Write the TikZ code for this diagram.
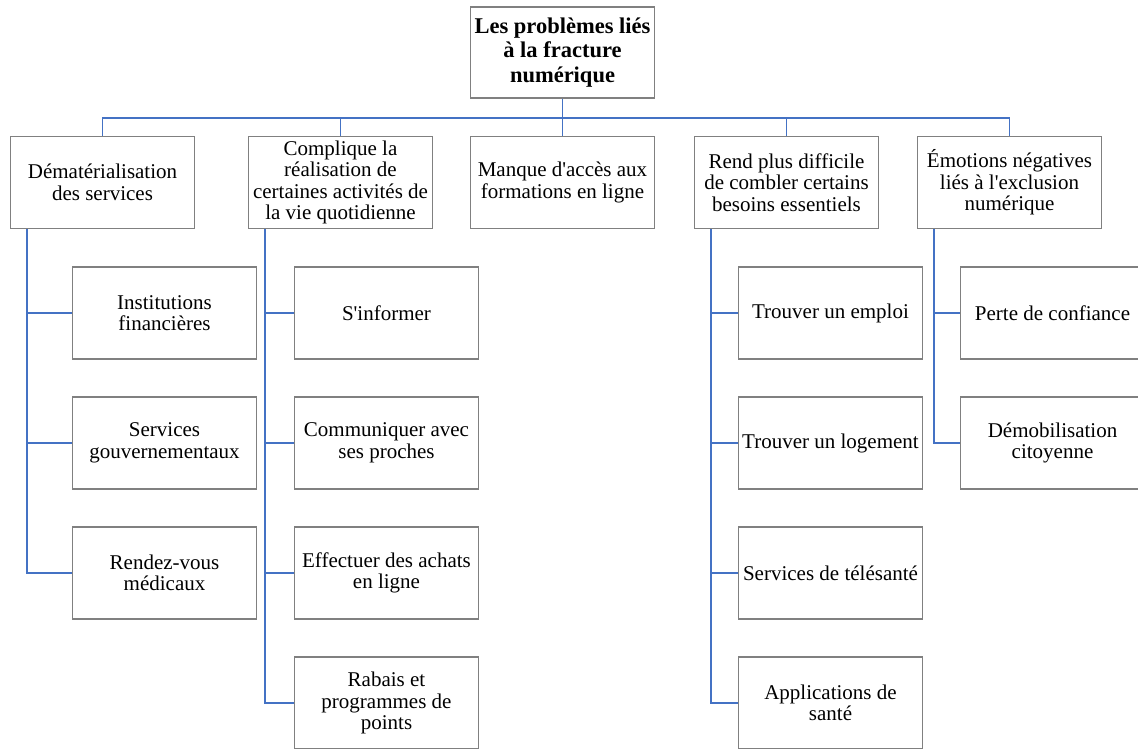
\documentclass[tikz,border=0pt]{standalone}
\usepackage{fontspec}
\setmainfont{Liberation Serif}

\definecolor{linkblue}{RGB}{68,114,196}
\definecolor{boxgray}{RGB}{128,128,128}

\begin{document}
\begin{tikzpicture}[x=1pt, y=-1pt,
    box/.style={draw=boxgray, line width=1.1pt, fill=white, minimum width=184pt, minimum height=92pt, inner sep=1pt, align=center, font=\fontsize{21}{21.5}\selectfont},
    rootbox/.style={box, minimum height=91pt, font=\fontsize{22.5}{24.5}\selectfont\bfseries},
    link/.style={draw=linkblue, line width=1.9pt}]
%% page size, the lowest row runs off the bottom and the right column off the right side
    \useasboundingbox (0,0) rectangle (1138,748);
%% the head of the chart
    \node[rootbox] (root) at (562.5,52.5) {Les problèmes liés\\à la fracture\\numérique};
%% first level
    \node[box] (dem) at (102.5,182.5) {Dématérialisation\\des services};
    \node[box] (comp) at (340.5,182.5) {Complique la\\réalisation de\\certaines activités de\\la vie quotidienne};
    \node[box] (manque) at (562.5,182.5) {Manque d{\textquotesingle}accès aux\\formations en ligne};
    \node[box] (rend) at (786.5,182.5) {Rend plus difficile\\de combler certains\\besoins essentiels};
    \node[box] (emo) at (1009.5,182.5) {Émotions négatives\\liés à l{\textquotesingle}exclusion\\numérique};
%% second level, one column under each box
    \node[box] (inst) at (164.5,313) {Institutions\\financières};
    \node[box] (gouv) at (164.5,443) {Services\\gouvernementaux};
    \node[box] (rdv) at (164.5,573) {Rendez-vous\\médicaux};
    \node[box] (info) at (386.5,313) {S{\textquotesingle}informer};
    \node[box] (comm) at (386.5,443) {Communiquer avec\\ses proches};
    \node[box] (achat) at (386.5,573) {Effectuer des achats\\en ligne};
    \node[box] (rabais) at (386.5,703) {Rabais et\\programmes de\\points};
    \node[box] (emploi) at (830.5,313) {Trouver un emploi};
    \node[box] (logement) at (830.5,443) {Trouver un logement};
    \node[box] (tele) at (830.5,573) {Services de télésanté};
    \node[box] (appli) at (830.5,703) {Applications de\\santé};
    \node[box] (perte) at (1052.5,313) {Perte de confiance};
    \node[box] (demob) at (1052.5,443) {Démobilisation\\citoyenne};
%% the bar under the head
    \coordinate (bar) at (0,118);
    \draw[link] (root.south) -- (root.south |- bar);
    \draw[link] (dem.north) -- (dem.north |- bar) -- (emo.north |- bar) -- (emo.north);
    \draw[link] (comp.north) -- (comp.north |- bar);
    \draw[link] (manque.north) -- (manque.north |- bar);
    \draw[link] (rend.north) -- (rend.north |- bar);
%% the side lines, they start a bit right of the left edge of the parent box
    \coordinate (demx) at ([xshift=17pt]dem.south west);
    \coordinate (compx) at ([xshift=17pt]comp.south west);
    \coordinate (rendx) at ([xshift=17pt]rend.south west);
    \coordinate (emox) at ([xshift=17pt]emo.south west);
    \foreach \kid in {inst,gouv,rdv}
        \draw[link] (demx) |- (\kid.west);
    \foreach \kid in {info,comm,achat,rabais}
        \draw[link] (compx) |- (\kid.west);
    \foreach \kid in {emploi,logement,tele,appli}
        \draw[link] (rendx) |- (\kid.west);
    \foreach \kid in {perte,demob}
        \draw[link] (emox) |- (\kid.west);
\end{tikzpicture}
\end{document}
